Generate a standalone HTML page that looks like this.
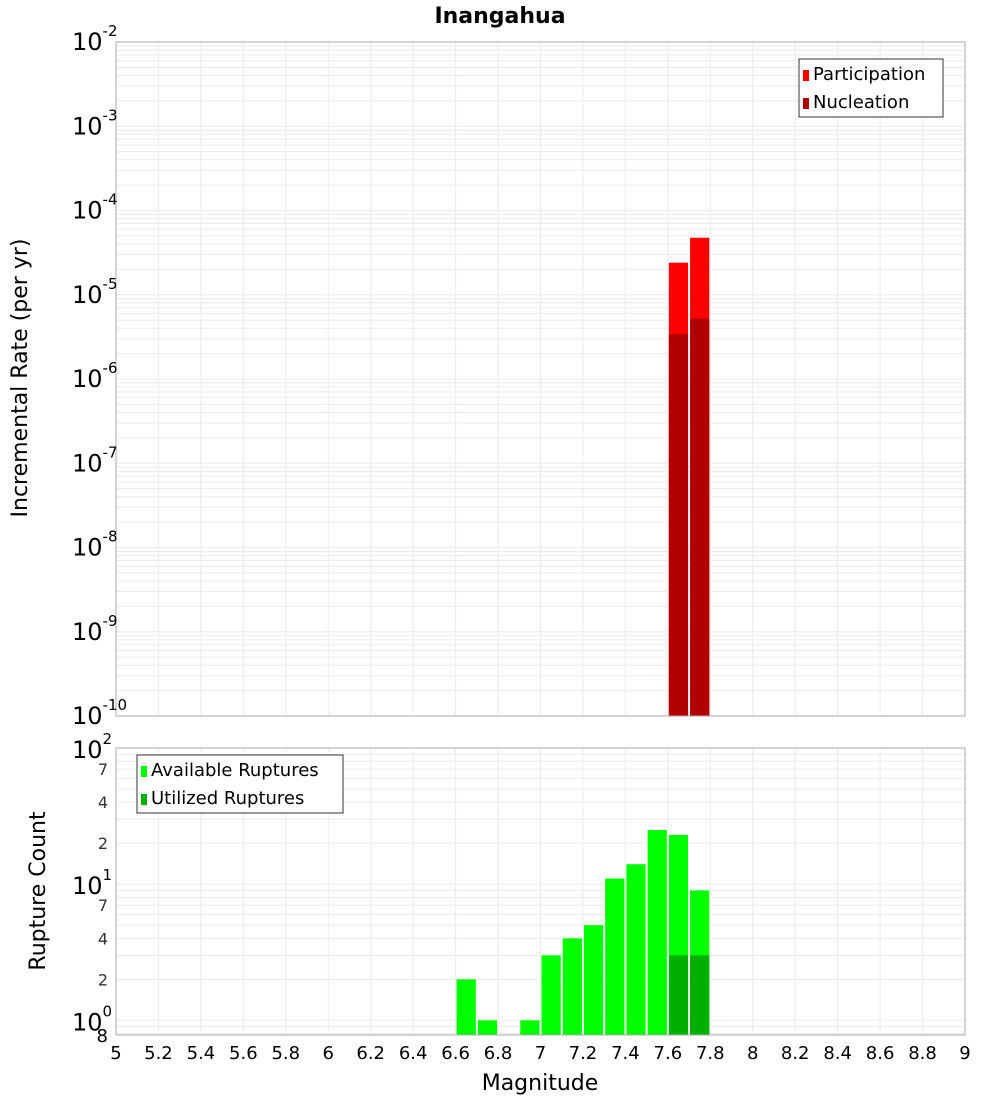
<!DOCTYPE html>
<html><head><meta charset="utf-8"><style>
body{margin:0;background:#fff;}
svg{font-family:"DejaVu Sans","Liberation Sans",sans-serif;}
</style></head><body>
<svg id="c" width="1000" height="1100" xmlns="http://www.w3.org/2000/svg"></svg>
<script>
const binCenters=[7.65,7.75];
const participation=[2.4e-5,4.75e-5];
const nucleation=[3.4e-6,5.2e-6];
const countBins=[6.65,6.75,6.95,7.05,7.15,7.25,7.35,7.45,7.55,7.65,7.75];
const available=[2,1,1,3,4,5,11,14,25,23,9];
const utilizedBins=[7.65,7.75];
const utilized=[3,3];
const xTicks=[5,5.2,5.4,5.6,5.8,6,6.2,6.4,6.6,6.8,7,7.2,7.4,7.6,7.8,8,8.2,8.4,8.6,8.8,9];
const topExps=[-2,-3,-4,-5,-6,-7,-8,-9,-10];
const botExps=[2,1,0];

const NS="http://www.w3.org/2000/svg";
const svg=document.getElementById('c');
function el(t,a,p){const e=document.createElementNS(NS,t);for(const k in a)e.setAttribute(k,a[k]);(p||svg).appendChild(e);return e;}
const X0=116,X1=965;
const xs=v=>X0+(v-5)/4*(X1-X0);
const T0=42,T1=716;
const yt=v=>T0+(-2-Math.log10(v))/8*(T1-T0);
const B0=748,B1=1035,BMIN=0.78;
const yb=v=>B0+(2-Math.log10(v))/(2-Math.log10(BMIN))*(B1-B0);

// title
let t=el('text',{x:500,y:23,'text-anchor':'middle','font-size':22,'font-weight':'bold'});t.textContent='Inangahua';


// grids
const g=el('g',{stroke:'#ebebeb','stroke-width':1});

xTicks.forEach(v=>{el('line',{x1:xs(v),x2:xs(v),y1:T0,y2:T1},g);el('line',{x1:xs(v),x2:xs(v),y1:B0,y2:B1},g);});
for(let e=-10;e<-2;e++)for(let m=1;m<10;m++){const v=m*Math.pow(10,e);el('line',{x1:X0,x2:X1,y1:yt(v),y2:yt(v)},g);}
el('line',{x1:X0,x2:X1,y1:yt(1e-2),y2:yt(1e-2)},g);
for(let e=-1;e<2;e++)for(let m=1;m<10;m++){const v=m*Math.pow(10,e);if(v>=BMIN)el('line',{x1:X0,x2:X1,y1:yb(v),y2:yb(v)},g);}

// top bars
const w=xs(5.1)-xs(5);
binCenters.forEach((c,i)=>{
 let r=el('rect',{x:xs(c-0.05)+1,y:yt(participation[i]),width:w-2,height:T1-yt(participation[i]),fill:'#ff0000'});
 
 r=el('rect',{x:xs(c-0.05)+1,y:yt(nucleation[i]),width:w-2,height:T1-yt(nucleation[i]),fill:'#b00000'});
 
});
countBins.forEach((c,i)=>{
 const r=el('rect',{x:xs(c-0.05)+1,y:yb(available[i]),width:w-2,height:B1-yb(available[i]),fill:'#00ff00'});
 
});
utilizedBins.forEach((c,i)=>{
 const r=el('rect',{x:xs(c-0.05)+1,y:yb(utilized[i]),width:w-2,height:B1-yb(utilized[i]),fill:'#00b000'});
 
});

// frames
let f=el('rect',{x:X0,y:T0,width:X1-X0,height:T1-T0,fill:'none',stroke:'#aaa'});

f=el('rect',{x:X0,y:B0,width:X1-X0,height:B1-B0,fill:'none',stroke:'#aaa'});


// y tick labels top
topExps.forEach(e=>{
 const y=yt(Math.pow(10,e));
 const tx=el('text',{x:110,y:y+8,'text-anchor':'end','font-size':24});
 
 const a=el('tspan',{},tx);a.textContent='10';
 const b=el('tspan',{dy:-14,'font-size':15},tx);b.textContent=String(e);
 tx.setAttribute('text-anchor','start');tx.setAttribute('x',72);
});
botExps.forEach(e=>{
 const y=yb(Math.pow(10,e));
 const tx=el('text',{x:72,y:y+10,'font-size':24});
 
 const a=el('tspan',{},tx);a.textContent='10';
 const b=el('tspan',{dy:-14,'font-size':15},tx);b.textContent=String(e);
});
[7,4,2].forEach(m=>[10,1].forEach(d=>{
 const tx=el('text',{x:108,y:yb(m*d)+6,'text-anchor':'end','font-size':16,fill:'#333'});tx.textContent=String(m);
 
}));
t=el('text',{x:108,y:1042,'text-anchor':'end','font-size':18});t.textContent='8';


// x ticks
xTicks.forEach(v=>{
 const tx=el('text',{x:xs(v),y:1059,'text-anchor':'middle','font-size':18});tx.textContent=String(v);
 
});
t=el('text',{x:540,y:1090,'text-anchor':'middle','font-size':22});t.textContent='Magnitude';

t=el('text',{x:27,y:378,'text-anchor':'middle','font-size':22,transform:'rotate(-90 27 378)'});t.textContent='Incremental Rate (per yr)';

t=el('text',{x:45,y:891,'text-anchor':'middle','font-size':22,transform:'rotate(-90 45 891)'});t.textContent='Rupture Count';


// legends
function legend(x,y,wd,items,name){
 const lg=el('g',{});
 el('rect',{x:x,y:y,width:wd,height:58,fill:'#fff',stroke:'#333'},lg);
 items.forEach((it,i)=>{
  el('rect',{x:x+4,y:y+11+i*28,width:6,height:11,fill:it[1]},lg);
  const tx=el('text',{x:x+14,y:y+21+i*28,'font-size':18},lg);tx.textContent=it[0];
  
 });
}
legend(799,59,144,[['Participation','#ff0000'],['Nucleation','#b00000']],'top-legend');
legend(137,755,206,[['Available Ruptures','#00ff00'],['Utilized Ruptures','#00b000']],'bottom-legend');
</script>
</body></html>
